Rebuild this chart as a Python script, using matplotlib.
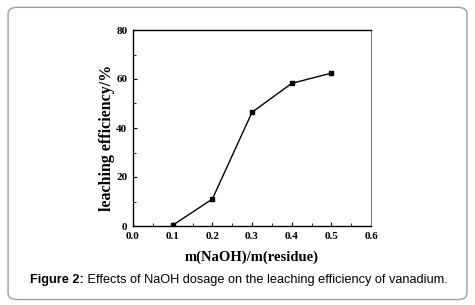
import matplotlib
matplotlib.use("Agg")
import matplotlib.pyplot as plt
from matplotlib.patches import FancyBboxPatch
from matplotlib.ticker import MultipleLocator

# data
naoh_ratio = [0.1, 0.2, 0.3, 0.4, 0.5]
leaching = [0.3, 11.0, 46.4, 58.2, 62.4]
x_ticks = [0.0, 0.1, 0.2, 0.3, 0.4, 0.5, 0.6]
y_ticks = [0, 20, 40, 60, 80]

serif = "Liberation Serif"
sans = "Liberation Sans"

fig = plt.figure(figsize=(4.75, 3.05), dpi=100)

# rounded frame around the whole figure
frame = FancyBboxPatch((0.017, 0.018), 0.966, 0.958, transform=fig.transFigure,
                       boxstyle="round,pad=0,rounding_size=0.02",
                       facecolor="none", edgecolor="#a0a0a0", linewidth=1.0,
                       zorder=-1)
fig.patches.append(frame)

ax = fig.add_axes([133 / 475, 1 - 226 / 305, 238 / 475, 196 / 305])
ax.plot(naoh_ratio, leaching, color="black", linewidth=1.0,
        marker="s", markersize=3.5)

ax.set_xlim(0.0, 0.6)
ax.set_ylim(0, 80)
ax.set_xticks(x_ticks)
ax.set_yticks(y_ticks)
ax.xaxis.set_minor_locator(MultipleLocator(0.05))
ax.yaxis.set_minor_locator(MultipleLocator(10))
ax.tick_params(which="both", direction="in", top=False, right=False)
ax.tick_params(which="major", length=3, width=0.8, pad=4)
ax.tick_params(which="minor", length=2, width=0.6)
ax.set_xticklabels(["0.0", "0.1", "0.2", "0.3", "0.4", "0.5", "0.6"],
                   family=serif, fontweight="bold", fontsize=8)
ax.set_yticklabels([str(v) for v in y_ticks],
                   family=serif, fontweight="bold", fontsize=8)

for side in ["left", "bottom", "top"]:
    ax.spines[side].set_linewidth(1.0)
ax.spines["right"].set_color("#808080")

ax.set_xlabel("m(NaOH)/m(residue)", family=serif, fontweight="bold",
              fontsize=10.5, labelpad=7)
ax.set_ylabel("leaching efficiency/%", family=serif, fontweight="bold",
              fontsize=11.5)
ax.yaxis.set_label_coords(-0.076, 0.449)

# caption with bold prefix, rest placed right after it
cap_y = 1 - 280 / 305
t1 = fig.text(30 / 475, cap_y, "Figure 2:", family=sans,
              fontweight="bold", fontsize=9.2, va="center", ha="left")
fig.canvas.draw()
bb = t1.get_window_extent()
fig.text(bb.x1 / fig.bbox.width, cap_y,
         " Effects of NaOH dosage on the leaching efficiency of vanadium.",
         family=sans, fontsize=9.2, va="center", ha="left")

fig.savefig("out.png", dpi=100)
